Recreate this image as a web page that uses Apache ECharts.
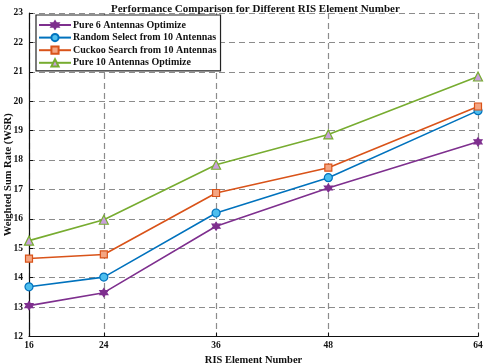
<!DOCTYPE html>
<html>
<head>
<meta charset="UTF-8">
<title>RIS Element Number</title>
<script type="text/javascript" src="https://cdn.jsdelivr.net/npm/echarts@6/dist/echarts.min.js"></script>
</head>
<body style="margin:0">
<div id="main" style="width:485px;height:364px;"></div>
<script type="text/javascript">
// RIS element counts (x) and WSR values
var elements = [16, 24, 36, 48, 64];
var pure6 = [13.05, 13.49, 15.75, 17.05, 18.62];
var random10 = [13.69, 14.02, 16.2, 17.4, 19.68];
var cuckoo10 = [14.65, 14.79, 16.88, 17.74, 19.82];
var pure10 = [15.26, 15.97, 17.84, 18.87, 20.84];
var yTicks = [12, 13, 14, 15, 16, 17, 18, 19, 20, 21, 22, 23];

var font = 'Liberation Serif';
var hexagram = 'path://M0,-10 L2.9,-5 L8.66,-5 L5.8,0 L8.66,5 L2.9,5 L0,10 L-2.9,5 L-8.66,5 L-5.8,0 L-8.66,-5 L-2.9,-5 Z';

function pairs(ys) {
    return elements.map(function (x, i) { return [x, ys[i]]; });
}

function line(name, ys, color, symbol, fill, size) {
    return {
        name: name,
        type: 'line',
        data: pairs(ys),
        symbol: symbol,
        symbolSize: size,
        showAllSymbol: true,
        lineStyle: { color: color, width: 1.6 },
        itemStyle: { color: fill, borderColor: color, borderWidth: 1.2 },
        emphasis: { disabled: true },
        animation: false
    };
}

var myChart = echarts.init(document.getElementById('main'));
var gridLine = { show: true, lineStyle: { color: '#8c8c8c', type: [6, 4], width: 1.2 } };

var option = {
    backgroundColor: '#fff',
    title: {
        text: 'Performance Comparison for Different RIS Element Number',
        left: 106, top: -1,
        textStyle: { fontFamily: font, fontWeight: 'bold', fontSize: 11, color: '#111' }
    },
    legend: {
        orient: 'vertical',
        left: 36, top: 15,
        padding: [5, 4, 3, 2],
        itemGap: 2.6,
        itemWidth: 32, itemHeight: 9,
        backgroundColor: '#fff',
        borderColor: '#222', borderWidth: 1.2,
        textStyle: { fontFamily: font, fontWeight: 'bold', fontSize: 10, color: '#111', padding: [0, 0, 0, -3] },
        data: ['Pure 6 Antennas Optimize', 'Random Select from 10 Antennas',
               'Cuckoo Search from 10 Antennas', 'Pure 10 Antennas Optimize']
    },
    grid: { left: 29, right: 7, top: 13, bottom: 27.5, containLabel: false, outerBoundsMode: 'none' },
    xAxis: {
        type: 'value',
        min: 16, max: 64,
        name: 'RIS Element Number',
        nameLocation: 'middle', nameGap: 18, nameMoveOverlap: false,
        nameTextStyle: { fontFamily: font, fontWeight: 'bold', fontSize: 10.5, color: '#111' },
        axisLine: { lineStyle: { color: '#111', width: 1.2 } },
        axisTick: { show: true, inside: true, length: 4, customValues: elements, lineStyle: { color: '#111' } },
        axisLabel: { customValues: elements, fontFamily: font, fontWeight: 'bold', fontSize: 9.5, color: '#111', margin: 4 },
        splitLine: gridLine
    },
    yAxis: {
        type: 'value',
        min: 12, max: 23, interval: 1,
        name: 'Weighted Sum Rate (WSR)',
        nameLocation: 'middle', nameGap: 15, nameMoveOverlap: false,
        nameTextStyle: { fontFamily: font, fontWeight: 'bold', fontSize: 10.5, color: '#111' },
        axisLine: { show: true, lineStyle: { color: '#111', width: 1.2 } },
        axisTick: { show: true, inside: true, length: 4, lineStyle: { color: '#111' } },
        axisLabel: {
            customValues: yTicks,
            fontFamily: font, fontWeight: 'bold', fontSize: 9.5, color: '#111', margin: 6
        },
        splitLine: gridLine
    },
    series: [
        line('Pure 6 Antennas Optimize', pure6, '#7E2F8E', hexagram, '#7E2F8E', 8),
        line('Random Select from 10 Antennas', random10, '#0072BD', 'circle', '#4DBEEE', 8),
        line('Cuckoo Search from 10 Antennas', cuckoo10, '#D95319', 'rect', '#F4A582', 7),
        line('Pure 10 Antennas Optimize', pure10, '#77AC30', 'triangle', '#C9A0DC', 9)
    ]
};

myChart.setOption(option);
</script>
</body>
</html>
